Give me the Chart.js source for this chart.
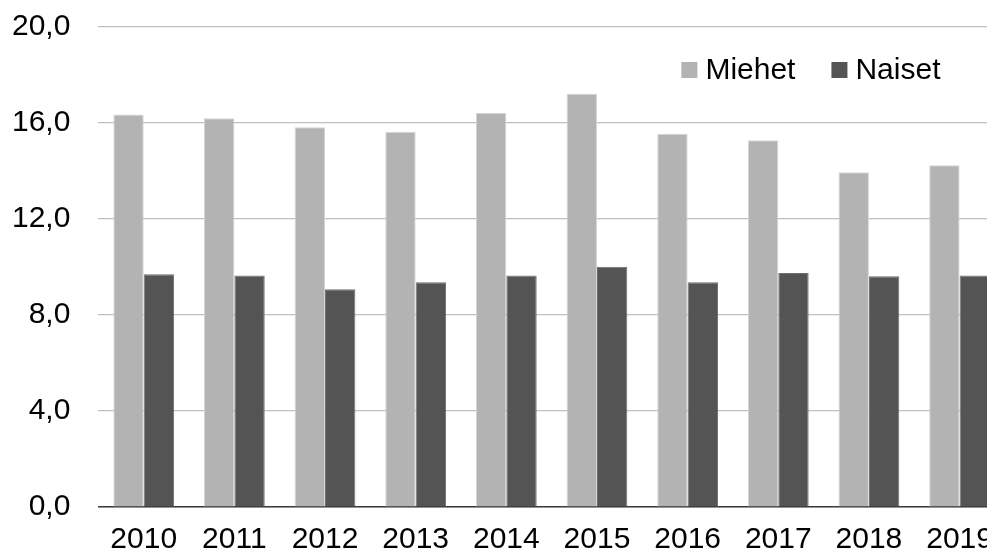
<!DOCTYPE html>
<html>
<head>
<meta charset="utf-8">
<script src="https://cdn.jsdelivr.net/npm/chart.js@4/dist/chart.umd.min.js"></script>
<style>
  html, body { margin: 0; padding: 0; background: #fff; overflow: hidden; }
  /* the source picture is cropped on the right, so the canvas is a bit bigger than the frame */
  #wrap { position: relative; width: 987px; height: 557px; overflow: hidden; }
  #chart { position: absolute; left: -27px; top: -19px; }
</style>
</head>
<body>
<div id="wrap"><canvas id="chart" width="1039" height="591" style="width:1039px;height:591px"></canvas></div>
<script>
const years = ['2010', '2011', '2012', '2013', '2014', '2015', '2016', '2017', '2018', '2019'];
const miehet = [16.35, 16.2, 15.82, 15.64, 16.43, 17.22, 15.55, 15.28, 13.95, 14.24];
const naiset = [9.7, 9.65, 9.07, 9.36, 9.65, 10.01, 9.36, 9.75, 9.61, 9.65];

const FONT = "'Liberation Sans', Arial, sans-serif";

// legend sits inside the plot, top right, like the original
const insideLegend = {
    id: 'insideLegend',
    afterDraw(chart) {
        const c = chart.ctx;
        const area = chart.chartArea;
        c.save();
        c.font = '30px ' + FONT;
        c.textBaseline = 'middle';
        c.textAlign = 'left';
        let x = area.left + 583;
        const y = area.top + 43;
        chart.data.datasets.forEach(ds => {
            c.fillStyle = ds.backgroundColor;
            c.fillRect(x, y - 8, 16, 16);
            c.fillStyle = '#000';
            c.fillText(ds.label, x + 24, y + 1);
            x += 24 + c.measureText(ds.label).width + 36;
        });
        c.restore();
    }
};

new Chart(document.getElementById('chart'), {
    type: 'bar',
    data: {
        labels: years,
        datasets: [
            { label: 'Miehet', data: miehet, backgroundColor: '#b3b3b3', borderColor: '#d4d4d4', borderWidth: 1 },
            { label: 'Naiset', data: naiset, backgroundColor: '#545454', borderColor: '#707070', borderWidth: 1 }
        ]
    },
    options: {
        responsive: false,
        animation: false,
        layout: { padding: { left: 11, top: 27, right: 1, bottom: 0 } },
        datasets: { bar: { categoryPercentage: 0.67, barPercentage: 1.0 } },
        plugins: { legend: { display: false }, tooltip: { enabled: false } },
        scales: {
            x: {
                grid: { display: false, drawTicks: false },
                border: { display: true, color: '#3a3a3a', width: 1.5 },
                ticks: { color: '#000', padding: 19, maxRotation: 0, autoSkip: false,
                         font: { family: FONT, size: 30, lineHeight: 0.9 } }
            },
            y: {
                min: 0, max: 20,
                border: { display: false },
                grid: { color: '#c0c0c0', lineWidth: 1.2, drawTicks: false },
                ticks: { stepSize: 4, color: '#000', padding: 28,
                         font: { family: FONT, size: 30 },
                         callback: v => v.toFixed(1).replace('.', ',') }
            }
        }
    },
    plugins: [insideLegend]
});
</script>
</body>
</html>
